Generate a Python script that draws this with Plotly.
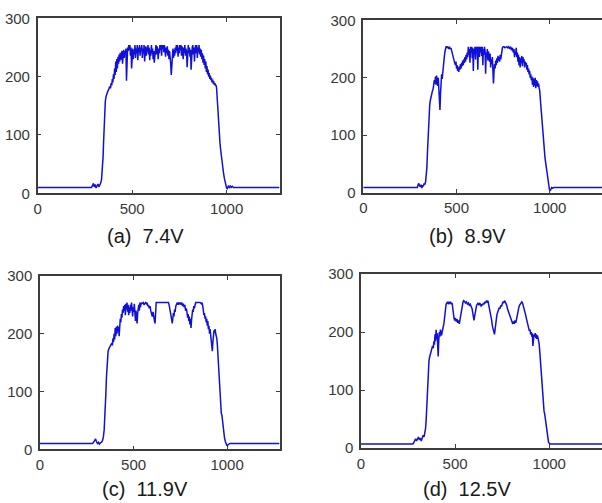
import plotly.graph_objects as go

# ---- data: (pixel index, intensity) samples ----
series_a = [(0,10),(285,10),(290,13),(295,17),(299,11),(304,15),(309,9),(314,12),(319,16),(324,11),(329,14),(334,18),(338,24),(342,38),(346,62),(349,90),(352,118),(355,142),(358,158),(362,166),(366,172),(371,175),(376,178),(381,183),(385,180),(389,189),(392,185),(395,196),(398,190),(401,204),(404,196),(407,214),(410,203),(413,226),(416,208),(419,230),(422,214),(425,234),(428,222),(431,238),(434,226),(437,241),(440,229),(443,236),(446,244),(449,222),(452,240),(455,246),(458,232),(461,244),(464,238),(467,248),(470,193),(473,242),(476,250),(479,244),(482,254),(485,246),(488,254),(491,236),(494,250),(497,214),(500,240),(503,248),(506,230),(509,246),(512,238),(515,254),(518,232),(521,248),(524,240),(527,254),(530,228),(533,250),(536,242),(539,254),(542,236),(545,250),(548,244),(551,254),(554,232),(557,248),(560,240),(563,254),(566,226),(569,246),(572,252),(575,236),(578,250),(581,242),(584,254),(587,238),(590,250),(593,228),(596,246),(599,236),(602,254),(605,240),(608,248),(611,230),(614,244),(617,224),(620,240),(623,250),(626,254),(629,238),(632,252),(635,244),(638,230),(641,248),(644,240),(647,254),(650,246),(653,254),(656,236),(659,254),(662,248),(665,254),(668,242),(671,254),(674,246),(677,234),(680,250),(683,240),(686,252),(689,236),(692,246),(695,230),(698,244),(701,236),(704,222),(707,203),(710,228),(713,240),(716,248),(719,232),(722,246),(725,236),(728,250),(731,240),(734,254),(737,244),(740,254),(743,234),(746,250),(749,240),(752,254),(755,246),(758,254),(761,236),(764,252),(767,244),(770,230),(773,250),(776,240),(779,254),(782,236),(785,248),(788,242),(791,216),(794,244),(797,254),(800,240),(803,250),(806,234),(809,246),(812,212),(815,240),(818,250),(821,254),(824,238),(827,250),(830,226),(833,246),(836,254),(839,240),(842,254),(845,232),(848,250),(851,242),(854,254),(857,238),(860,248),(863,234),(866,246),(869,230),(872,240),(875,224),(878,236),(881,220),(884,230),(887,214),(890,226),(893,208),(896,218),(899,204),(902,212),(905,200),(908,206),(911,196),(914,202),(917,194),(920,198),(923,190),(926,195),(929,188),(932,192),(935,186),(938,189),(941,184),(944,186),(947,180),(950,160),(953,148),(956,134),(959,118),(962,100),(965,86),(968,76),(972,62),(976,52),(980,42),(984,34),(988,26),(992,19),(996,13),(1000,9),(1004,8),(1009,12),(1014,10),(1019,13),(1024,10),(1030,12),(1036,10),(1280,10)]

series_b = [(0,9),(290,9),(294,14),(298,16),(302,12),(306,10),(310,14),(314,8),(318,13),(322,11),(326,16),(330,14),(334,19),(338,28),(341,44),(344,70),(347,98),(350,122),(353,140),(356,152),(359,160),(362,166),(366,172),(370,176),(374,180),(378,188),(381,196),(384,190),(387,202),(390,188),(393,204),(396,196),(399,186),(402,200),(405,178),(408,160),(411,144),(414,172),(417,196),(420,206),(423,198),(426,212),(429,208),(432,226),(435,238),(438,246),(441,252),(444,254),(447,254),(450,252),(454,254),(458,250),(462,254),(466,250),(470,252),(474,246),(478,244),(482,236),(486,232),(490,226),(494,222),(497,228),(500,216),(503,222),(506,212),(509,218),(512,210),(515,220),(518,214),(521,224),(524,216),(527,226),(530,220),(533,230),(536,222),(539,232),(542,226),(545,236),(548,228),(551,240),(554,232),(557,244),(560,236),(563,254),(566,240),(569,250),(572,226),(575,254),(578,244),(581,254),(584,234),(587,252),(590,212),(593,250),(596,240),(599,254),(602,232),(605,254),(608,244),(611,254),(614,214),(617,248),(620,254),(623,236),(626,254),(629,244),(632,254),(635,238),(638,254),(641,222),(644,250),(647,240),(650,254),(653,246),(656,207),(659,244),(662,236),(665,250),(668,230),(671,246),(674,238),(677,228),(680,242),(683,218),(686,232),(689,224),(692,236),(695,218),(698,190),(701,212),(704,224),(707,216),(710,230),(713,222),(716,234),(719,226),(722,238),(725,230),(728,236),(731,228),(734,240),(737,232),(740,244),(743,248),(746,252),(750,254),(755,254),(760,252),(765,254),(770,254),(775,252),(780,254),(785,250),(790,254),(795,248),(800,252),(804,244),(808,250),(811,236),(814,246),(817,240),(820,252),(823,236),(826,244),(829,228),(832,240),(835,222),(838,236),(841,218),(844,234),(847,226),(850,238),(853,220),(856,236),(859,228),(862,232),(865,218),(868,228),(871,222),(874,226),(877,214),(880,222),(883,210),(886,216),(889,206),(892,212),(895,200),(898,206),(901,196),(904,202),(907,188),(910,200),(913,184),(916,198),(919,186),(922,200),(925,182),(928,196),(931,186),(934,194),(937,184),(940,190),(943,182),(946,178),(950,160),(953,146),(956,132),(959,118),(962,104),(965,90),(968,80),(971,70),(974,62),(977,54),(980,46),(983,38),(986,30),(990,20),(994,12),(998,6),(1002,3),(1006,7),(1010,9),(1015,8),(1022,9),(1280,9)]

series_c = [(0,10),(280,10),(286,12),(292,16),(297,18),(302,13),(307,10),(312,12),(317,9),(322,11),(328,12),(334,15),(339,22),(343,34),(346,50),(349,72),(352,96),(355,124),(358,148),(361,162),(364,170),(368,174),(372,176),(376,178),(380,181),(384,184),(387,180),(390,192),(393,186),(396,200),(399,190),(402,210),(405,196),(408,212),(411,200),(414,214),(417,204),(420,212),(423,196),(426,218),(429,226),(432,220),(435,234),(438,228),(441,242),(444,236),(447,248),(450,240),(453,250),(456,232),(459,252),(462,242),(465,254),(468,238),(471,250),(474,232),(477,246),(480,236),(483,250),(486,240),(489,254),(492,244),(495,230),(498,246),(501,238),(504,252),(507,228),(510,222),(513,240),(516,232),(519,218),(522,236),(525,244),(528,250),(531,240),(534,254),(537,246),(540,254),(544,252),(548,254),(552,254),(556,250),(560,254),(564,254),(568,252),(572,254),(576,248),(580,250),(584,244),(588,248),(592,240),(596,236),(600,230),(604,238),(608,226),(612,222),(615,218),(618,240),(621,254),(625,254),(630,254),(640,254),(650,254),(660,254),(670,254),(680,254),(686,254),(690,250),(694,244),(698,238),(701,230),(704,224),(707,218),(710,226),(713,236),(716,230),(719,242),(722,238),(726,248),(730,252),(734,254),(738,250),(742,254),(746,252),(750,254),(754,250),(758,254),(762,248),(766,252),(770,246),(774,250),(778,240),(782,244),(786,236),(789,228),(792,234),(795,222),(798,230),(801,216),(804,226),(807,210),(810,224),(813,232),(816,242),(819,238),(822,248),(825,244),(828,252),(832,254),(836,254),(840,254),(845,254),(850,254),(856,254),(862,252),(866,254),(870,248),(873,240),(876,232),(879,236),(882,226),(885,230),(888,220),(891,226),(894,214),(897,222),(900,208),(903,214),(906,200),(909,208),(912,196),(915,188),(918,178),(921,170),(924,186),(927,198),(930,206),(933,202),(936,208),(939,200),(942,196),(945,192),(948,180),(951,160),(954,140),(957,122),(960,104),(963,86),(966,70),(969,62),(972,60),(975,50),(978,38),(982,28),(986,20),(990,14),(994,10),(998,7),(1002,7),(1008,9),(1014,10),(1280,10)]

series_d = [(0,7),(275,7),(280,9),(285,13),(290,16),(295,12),(300,15),(305,19),(310,14),(315,17),(320,12),(325,18),(330,22),(335,19),(340,26),(343,34),(346,48),(349,72),(352,96),(355,122),(358,140),(361,150),(364,156),(368,162),(372,166),(376,170),(380,176),(384,172),(387,184),(390,178),(393,196),(396,184),(399,204),(402,188),(405,198),(408,172),(410,158),(413,186),(416,200),(419,192),(422,204),(425,196),(428,194),(431,200),(434,204),(437,208),(440,214),(443,222),(446,232),(449,242),(452,248),(456,250),(460,252),(464,248),(468,252),(472,250),(476,252),(480,248),(484,250),(487,242),(490,232),(494,224),(498,220),(502,224),(506,218),(510,222),(514,216),(518,220),(522,214),(526,222),(530,232),(534,240),(538,248),(542,252),(546,254),(550,252),(555,250),(560,252),(565,248),(570,250),(575,246),(580,248),(585,244),(590,240),(594,232),(597,226),(600,220),(603,226),(606,234),(610,240),(614,246),(618,248),(622,250),(626,246),(630,250),(634,248),(638,244),(642,248),(646,246),(650,250),(654,248),(658,252),(662,250),(666,254),(670,252),(674,254),(678,248),(682,244),(686,236),(690,226),(694,220),(698,210),(702,206),(706,200),(709,196),(712,204),(715,214),(718,222),(722,230),(726,234),(730,238),(734,242),(738,240),(742,246),(746,244),(750,250),(754,252),(758,250),(762,254),(766,252),(770,250),(774,246),(778,240),(782,236),(786,230),(790,226),(794,222),(798,218),(802,216),(806,214),(810,218),(814,214),(818,220),(822,216),(826,222),(830,230),(834,236),(838,242),(842,246),(846,248),(850,250),(854,252),(858,250),(862,246),(866,240),(870,236),(874,230),(878,224),(882,218),(886,212),(890,208),(894,202),(898,204),(901,196),(904,200),(907,192),(910,198),(913,176),(916,186),(919,196),(922,192),(925,198),(928,190),(931,196),(934,188),(937,194),(940,190),(943,186),(946,180),(950,164),(953,150),(956,134),(959,118),(962,100),(965,86),(968,76),(972,64),(976,58),(980,46),(984,34),(988,24),(992,16),(996,10),(1000,8),(1004,7),(1280,7)]

captions = ["(a)\u00a0 7.4V", "(b)\u00a0 8.9V", "(c)\u00a0 11.9V", "(d)\u00a0 12.5V"]
x_tick_vals = [0, 500, 1000]
y_tick_vals = [0, 100, 200, 300]
x_range = [0, 1280]
y_range = [0, 300]

W, H = 602, 503
# panel boxes in pixels: left, right, top, bottom
boxes = [(37.7, 279.5, 18.3, 193.3),
         (363.3, 602, 20.3, 192.7),
         (40.0, 279.5, 276.0, 449.3),
         (361.0, 602, 274.0, 448.0)]
caption_pos = [(145, 236), (467, 236), (145, 489), (467, 489)]

fig = go.Figure()
axis_color = "#3c3c3c"
tick_font = dict(family="Liberation Sans, Arial, sans-serif", size=15, color="#383838")

all_series = [series_a, series_b, series_c, series_d]
for i, s in enumerate(all_series):
    sfx = "" if i == 0 else str(i + 1)
    fig.add_trace(go.Scatter(
        x=[p[0] for p in s], y=[p[1] for p in s], mode="lines",
        line=dict(color="#1010d8", width=1.5),
        xaxis="x" + sfx, yaxis="y" + sfx, showlegend=False, hoverinfo="skip"))
    l, r, t, b = boxes[i]
    right_open = r >= W
    fig.layout["xaxis" + sfx] = dict(
        domain=[l / W, min(r / W, 1.0)], range=x_range, anchor="y" + sfx,
        showline=True, linecolor=axis_color, linewidth=1.5, mirror="ticks",
        ticks="inside", ticklen=4, tickwidth=1, tickcolor=axis_color,
        tickvals=x_tick_vals, showgrid=False, zeroline=False,
        tickfont=tick_font, ticklabelstandoff=1, automargin=False)
    fig.layout["yaxis" + sfx] = dict(
        domain=[1 - b / H, 1 - t / H], range=y_range, anchor="x" + sfx,
        showline=True, linecolor=axis_color, linewidth=1.5,
        mirror=False if right_open else "ticks",
        ticks="inside", ticklen=4, tickwidth=1, tickcolor=axis_color,
        tickvals=y_tick_vals, showgrid=False, zeroline=False,
        tickfont=tick_font, ticklabelstandoff=3, automargin=False)
    cx, cy = caption_pos[i]
    fig.add_annotation(x=cx / W, y=1 - cy / H, xref="paper", yref="paper",
                       text=captions[i], showarrow=False,
                       xanchor="center", yanchor="middle",
                       font=dict(family="Liberation Sans, Arial, sans-serif",
                                 size=20, color="#1a1a1a"))

fig.update_layout(width=W, height=H, margin=dict(l=0, r=0, t=0, b=0),
                  paper_bgcolor="white", plot_bgcolor="white",
                  template="none")
fig.write_html("out.html", config={"displayModeBar": False},
               post_script="document.body.style.margin='0';document.body.style.overflow='hidden';")
